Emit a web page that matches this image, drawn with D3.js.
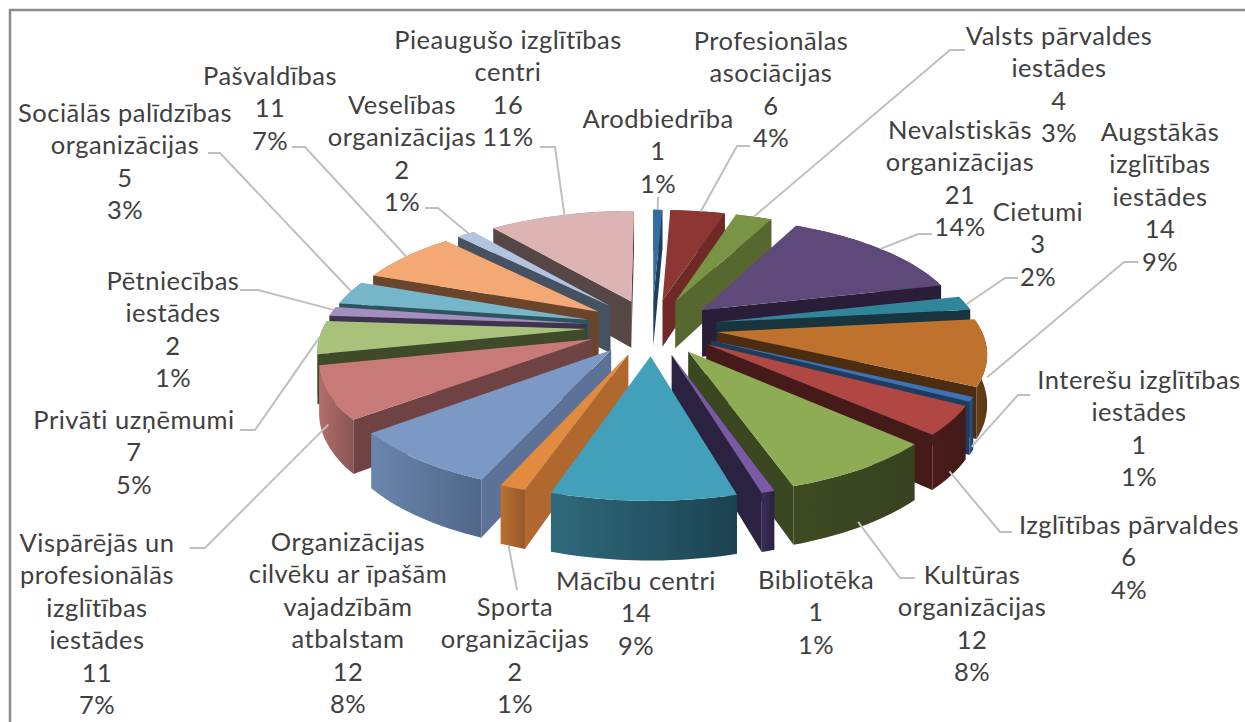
<!DOCTYPE html>
<html>
<head>
<meta charset="utf-8">
<script src="https://cdn.jsdelivr.net/npm/d3@7"></script>
<style>
  html, body { margin: 0; padding: 0; background: #fff; }
  text { font-family: Lato, "Open Sans", sans-serif; letter-spacing: 0.5px; }
</style>
</head>
<body>
<svg id="chart" width="1245" height="722"></svg>
<script>
// slices clockwise from 12 o'clock
var categories = [
  "Arodbiedrība", "Profesionālas asociācijas", "Valsts pārvaldes iestādes", "Nevalstiskās organizācijas",
  "Cietumi", "Augstākās izglītības iestādes", "Interešu izglītības iestādes", "Izglītības pārvaldes",
  "Kultūras organizācijas", "Bibliotēka", "Mācību centri", "Sporta organizācijas",
  "Organizācijas cilvēku ar īpašām vajadzībām atbalstam", "Vispārējās un profesionālās izglītības iestādes",
  "Privāti uzņēmumi", "Pētniecības iestādes", "Sociālās palīdzības organizācijas", "Pašvaldības",
  "Veselības organizācijas", "Pieaugušo izglītības centri"
];
var values = [1, 6, 4, 21, 3, 14, 1, 6, 12, 1, 14, 2, 12, 11, 7, 2, 5, 11, 2, 16];
var percents = ["1%", "4%", "3%", "14%", "2%", "9%", "1%", "4%", "8%", "1%", "9%", "1%", "8%", "7%", "5%", "1%", "3%", "7%", "1%", "11%"];

// how each category name wraps in its label
var nameLines = [
  ["Arodbiedrība"], ["Profesionālas", "asociācijas"], ["Valsts pārvaldes", "iestādes"], ["Nevalstiskās", "organizācijas"],
  ["Cietumi"], ["Augstākās", "izglītības", "iestādes"], ["Interešu izglītības", "iestādes"], ["Izglītības pārvaldes"],
  ["Kultūras", "organizācijas"], ["Bibliotēka"], ["Mācību centri"], ["Sporta", "organizācijas"],
  ["Organizācijas", "cilvēku ar īpašām", "vajadzībām", "atbalstam"], ["Vispārējās un", "profesionālās", "izglītības", "iestādes"],
  ["Privāti uzņēmumi"], ["Pētniecības", "iestādes"], ["Sociālās palīdzības", "organizācijas"], ["Pašvaldības"],
  ["Veselības", "organizācijas"], ["Pieaugušo izglītības", "centri"]
];

var topColors  = ["#376ca3", "#8e3634", "#7a9445", "#5f497a", "#31859b", "#be722e", "#3a73b8", "#b04743", "#8eac54", "#7a5aa6",
                  "#43a0ba", "#e28a3f", "#7c99c6", "#c77a78", "#a8c27c", "#a48ebd", "#75b6cb", "#f4a873", "#b3c4e0", "#ddb3b3"];
var wallColors = ["#1f3f60", "#6f2a28", "#56682f", "#2a1d38", "#17343f", "#4d2d12", "#1f3c5f", "#461a18", "#3a4720", "#2b2140",
                  "#1f4a58", "#b0682e", "#5c7397", "#6f4343", "#3f4a28", "#3f3350", "#2c5560", "#6a452c", "#465162", "#574646"];
var rimLight   = ["#2b5580", "#7a2c2a", "#64793a", "#4a3a60", "#276a7c", "#6a4018", "#2f5c93", "#4a1c1a", "#3e4a22", "#3a2e55",
                  "#2f6a7b", "#b9702f", "#6a86ad", "#b26e6c", "#7f9a58", "#7d6a94", "#58909f", "#c9885a", "#8a9ab4", "#b08f8f"];
var rimDark    = ["#1f3f60", "#5a2120", "#4a5a2a", "#2a1d38", "#1a4350", "#5a3716", "#1c3a5c", "#431917", "#374320", "#2b2140",
                  "#1b4250", "#94592a", "#4f6788", "#8a5552", "#5e7340", "#5c4e70", "#3f6f7c", "#99663f", "#687890", "#8a7070"];

// label block: centre x, first line y (central)
var labelX = [658, 771, 1059, 960, 1038, 1160, 1139, 1129, 972, 816, 636, 515, 348, 97, 134, 173, 125, 270, 402, 508];
var labelY = [119, 41, 36, 130, 212, 132, 380, 525, 575, 580, 581, 607, 542, 543, 420, 281, 113, 76, 105, 40];
var lineStep = 32.5;

// leader start and elbow; the far end is worked out from the slice
var leaderStart = [[658, 197], [750, 146], [965, 50], [932, 234], [1018, 278], [1138, 262], [1030, 395], [1012, 532],
                   [915, 578], null, null, [517, 590], null, [190, 548], [240, 430], [240, 290], [208, 153], [292, 147], [425, 208], [540, 147]];
var leaderElbow = [[658, 197], [737, 146], [950, 50], [918, 234], [1005, 278], [1124, 262], [1018, 395], [1000, 532],
                   [900, 578], null, null, [517, 590], null, [205, 548], [255, 430], [258, 290], [220, 153], [305, 147], [438, 208], [555, 147]];
var leaderDrop = [0, 0, 0, 0, 0, 0.5, 0.9, 0.9, 0.9, 0, 0, 1, 0, 0.6, 0, 0, 0, 0, 0, 0];

var width = 1245, height = 722;
var centerX = 652, centerY = 327;
var radiusX = 263, radiusY = 112, explode = 0.25, depth = 48, persp = 0.156;

var svg = d3.select("#chart");
var defs = svg.append("defs");

svg.append("rect").attr("width", width).attr("height", height).attr("fill", "#fff");

var pie = d3.pie().sort(null).value(function(d) { return d; });
var arcs = pie(values);

// plan coords -> screen, u to the right, v toward the viewer, z is 0 on top and 1 at the bottom
function project(u, v, z) {
  var s = 1 / (1 - persp * v);
  return [centerX + radiusX * u * s, centerY + (radiusY * v + depth * z) * s];
}

function slicePoints(d) {
  var mid = (d.startAngle + d.endAngle) / 2;
  var ox = explode * Math.sin(mid), oy = -explode * Math.cos(mid);
  var n = Math.max(2, Math.ceil((d.endAngle - d.startAngle) / 0.03));
  var rim = d3.range(n + 1).map(function(i) {
    var a = d.startAngle + (d.endAngle - d.startAngle) * i / n;
    return [ox + Math.sin(a), oy - Math.cos(a)];
  });
  return {apex: [ox, oy], rim: rim, mid: mid};
}

var line = d3.line();

function poly(pts) { return line(pts) + "Z"; }

function area2(a, b, c) {
  return (b[0] - a[0]) * (c[1] - a[1]) - (b[1] - a[1]) * (c[0] - a[0]);
}

// far slices first
var order = d3.range(values.length).sort(function(a, b) {
  return Math.cos((arcs[b].startAngle + arcs[b].endAngle) / 2) - Math.cos((arcs[a].startAngle + arcs[a].endAngle) / 2);
});

var g = svg.append("g");

order.forEach(function(i) {
  var p = slicePoints(arcs[i]);
  var topRim = p.rim.map(function(q) { return project(q[0], q[1], 0); });
  var botRim = p.rim.map(function(q) { return project(q[0], q[1], 1); });
  var apexT = project(p.apex[0], p.apex[1], 0), apexB = project(p.apex[0], p.apex[1], 1);

  var grad = defs.append("linearGradient").attr("id", "rim" + i)
    .attr("gradientUnits", "userSpaceOnUse")
    .attr("x1", d3.min(topRim, function(q) { return q[0]; })).attr("x2", d3.max(topRim, function(q) { return q[0]; }))
    .attr("y1", 0).attr("y2", 0);
  grad.append("stop").attr("offset", 0).attr("stop-color", rimLight[i]);
  grad.append("stop").attr("offset", 1).attr("stop-color", rimDark[i]);

  g.append("path").attr("d", poly(topRim.concat(botRim.slice().reverse()))).attr("fill", "url(#rim" + i + ")");

  // radial walls, only where they face the viewer
  var first = topRim[0], last = topRim[topRim.length - 1];
  if (area2(apexT, apexB, first) > 0) {
    g.append("path").attr("d", poly([apexT, first, botRim[0], apexB])).attr("fill", wallColors[i]);
  }
  if (area2(apexT, apexB, last) < 0) {
    g.append("path").attr("d", poly([apexT, last, botRim[botRim.length - 1], apexB])).attr("fill", wallColors[i]);
  }
  g.append("path").attr("d", poly([apexT].concat(topRim))).attr("fill", topColors[i]);
});

// leaders
var leaders = svg.append("g").attr("fill", "none").attr("stroke", "#bfbfbf").attr("stroke-width", 2);
values.forEach(function(v, i) {
  if (!leaderStart[i]) return;
  var p = slicePoints(arcs[i]);
  var r = p.rim[Math.floor(p.rim.length / 2)];
  var end = project(r[0], r[1], leaderDrop[i]);
  leaders.append("path").attr("d", line([leaderStart[i], leaderElbow[i], end]));
});

// labels
var labels = svg.append("g").attr("fill", "#404040").attr("font-size", 25.5).attr("text-anchor", "middle");
values.forEach(function(v, i) {
  var rows = nameLines[i].concat([String(v), percents[i]]);
  rows.forEach(function(t, j) {
    labels.append("text")
      .attr("x", labelX[i])
      .attr("y", labelY[i] + j * lineStep)
      .attr("dy", "0.35em")
      .text(t);
  });
});

// frame, open on the right
svg.append("path").attr("d", "M10,722V10H1245").attr("fill", "none").attr("stroke", "#8c8c8c").attr("stroke-width", 2.5);
</script>
</body>
</html>
